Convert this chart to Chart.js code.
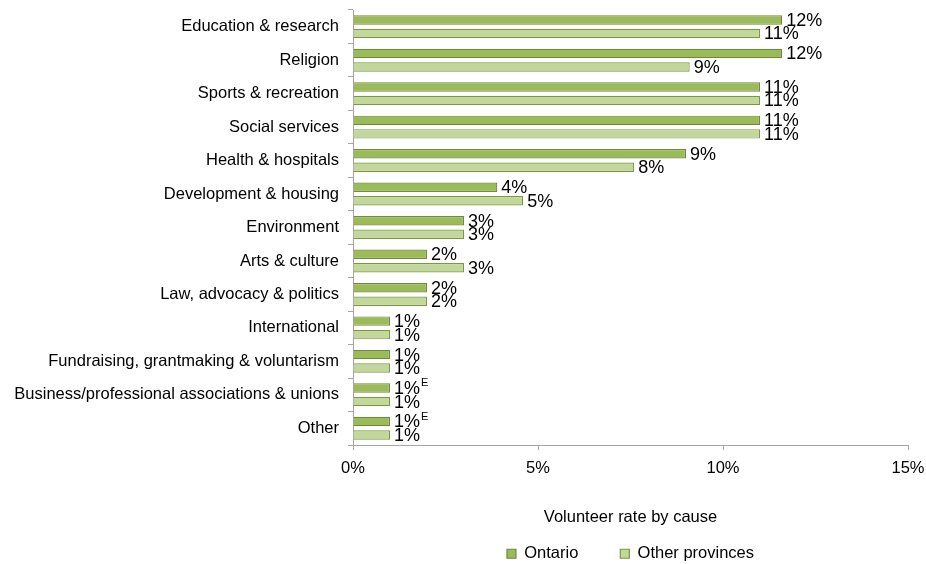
<!DOCTYPE html>
<html>
<head>
<meta charset="utf-8">
<script src="https://cdn.jsdelivr.net/npm/chart.js@4"></script>
<style>
html,body{margin:0;padding:0;background:#fff;}
#wrap{width:926px;height:564px;position:relative;}
</style>
</head>
<body>
<div id="wrap"><canvas id="c" width="926" height="564"></canvas></div>
<script>
const categories = ["Education & research","Religion","Sports & recreation","Social services","Health & hospitals","Development & housing","Environment","Arts & culture","Law, advocacy & politics","International","Fundraising, grantmaking & voluntarism","Business/professional associations & unions","Other"];
const ontario = [11.6,11.6,11.0,11.0,9.0,3.9,3.0,2.0,2.0,1.0,1.0,1.0,1.0];
const otherProvinces = [11.0,9.1,11.0,11.0,7.6,4.6,3.0,3.0,2.0,1.0,1.0,1.0,1.0];
const ontarioLabels = ["12%","12%","11%","11%","9%","4%","3%","2%","2%","1%","1%","1%","1%"];
const otherLabels = ["11%","9%","11%","11%","8%","5%","3%","3%","2%","1%","1%","1%","1%"];
const ontarioNotes = ["","","","","","","","","","","","E","E"];
const otherNotes = ["","","","","","","","","","","","",""];
const xTicks = [0,5,10,15];

const FONT = "'Liberation Sans', Arial, sans-serif";
const FS = 16.5;

const labelPlugin = {
  id: 'barLabels',
  afterDatasetsDraw(chart) {
    const ctx = chart.ctx;
    const sets = [[ontarioLabels, ontarioNotes],[otherLabels, otherNotes]];
    chart.data.datasets.forEach((ds, di) => {
      const meta = chart.getDatasetMeta(di);
      meta.data.forEach((el, i) => {
        const txt = sets[di][0][i];
        const note = sets[di][1][i];
        ctx.save();
        ctx.font = "18px " + FONT;
        ctx.fillStyle = "#000";
        ctx.textAlign = "left";
        ctx.textBaseline = "middle";
        const x = el.x + 4;
        const y = el.y + 1;
        ctx.fillText(txt, x, y);
        if (note) {
          const w = ctx.measureText(txt).width;
          ctx.font = "11px " + FONT;
          ctx.fillText(note, x + w + 1, y - 6);
        }
        ctx.restore();
      });
    });
  }
};

new Chart(document.getElementById('c'), {
  type: 'bar',
  data: {
    labels: categories,
    datasets: [
      { label: 'Ontario', data: ontario, backgroundColor: '#9bbb59', borderColor: '#71893f', borderWidth: 1.2, categoryPercentage: 0.806, barPercentage: 0.7 },
      { label: 'Other provinces', data: otherProvinces, backgroundColor: '#c3d69b', borderColor: '#7a9a40', borderWidth: 1.2, categoryPercentage: 0.806, barPercentage: 0.7 }
    ]
  },
  options: {
    indexAxis: 'y',
    responsive: false,
    animation: false,
    layout: { padding: { top: 10, right: 0, left: 0, bottom: -8 } },
    plugins: {
      legend: {
        position: 'bottom',
        fullSize: false,
        labels: {
          font: { family: FONT, size: FS },
          color: '#000',
          boxWidth: 9,
          boxHeight: 9,
          padding: 42
        }
      },
      tooltip: { enabled: false }
    },
    scales: {
      y: {
        grid: { drawOnChartArea: false, tickLength: 5, color: '#a6a6a6', offset: true },
        border: { color: '#a6a6a6' },
        ticks: { font: { family: FONT, size: FS }, color: '#000', padding: 9 },
        afterFit(scale) { scale.width = 353; scale.paddingTop = 0; scale.paddingBottom = 0; }
      },
      x: {
        min: 0, max: 15,
        afterBuildTicks(scale) { scale.ticks = xTicks.map(v => ({ value: v })); },
        grid: { drawOnChartArea: false, tickLength: 5, color: '#a6a6a6' },
        border: { color: '#a6a6a6' },
        ticks: { font: { family: FONT, size: FS }, color: '#000', padding: 9, callback: v => v + '%' },
        title: { display: true, text: 'Volunteer rate by cause', font: { family: FONT, size: FS }, color: '#000', padding: { top: 0, bottom: -23.5 } },
        afterFit(scale) { scale.height = 58.5; scale.paddingRight = 18; scale.paddingLeft = 0; }
      }
    }
  },
  plugins: [labelPlugin]
});
</script>
</body>
</html>
